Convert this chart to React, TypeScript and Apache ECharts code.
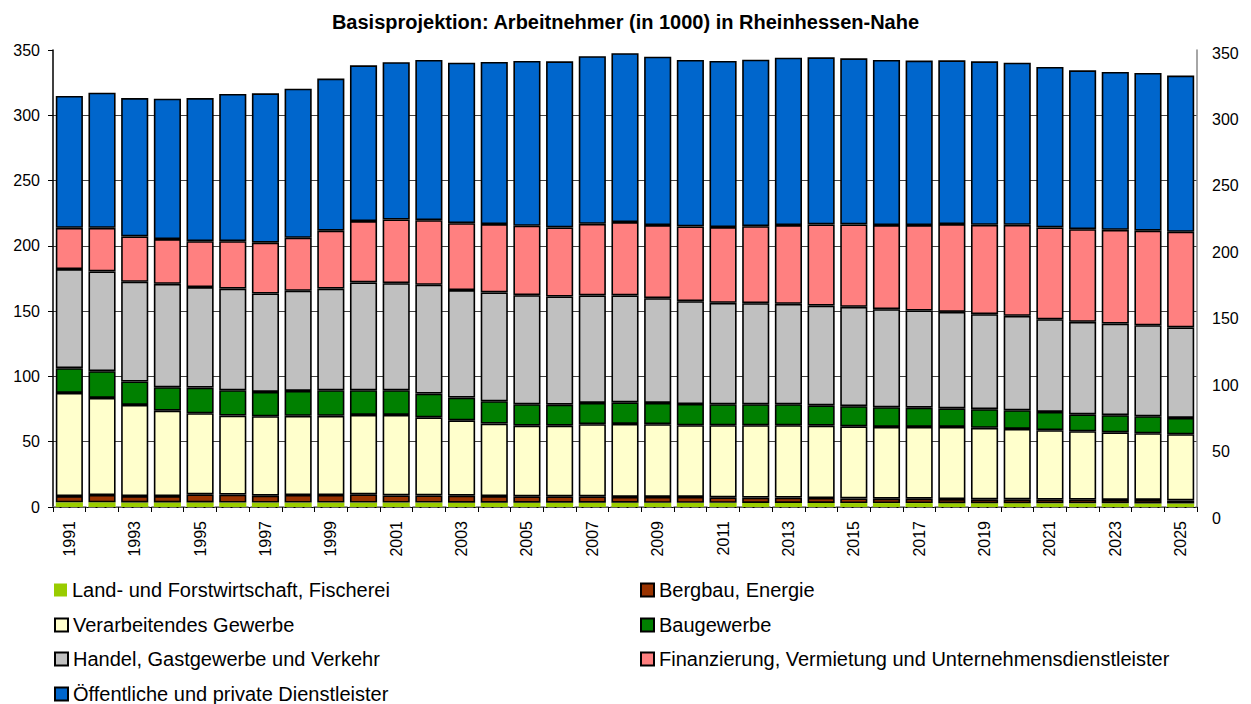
import React, { useEffect, useRef } from "react";
import * as echarts from "echarts";

const years = [
  "1991","1992","1993","1994","1995","1996","1997","1998","1999","2000",
  "2001","2002","2003","2004","2005","2006","2007","2008","2009","2010",
  "2011","2012","2013","2014","2015","2016","2017","2018","2019","2020",
  "2021","2022","2023","2024","2025",
];

const land = [3.6,3.6,3.5,3.5,3.5,3.4,3.4,3.4,3.4,3.4,3.4,3.4,3.3,3.3,3.3,3.3,3.3,3.3,3.2,3.2,3.2,3.1,3.1,3.1,3.0,3.0,3.0,2.9,2.9,2.9,2.8,2.8,2.8,2.7,2.7];
const bergbau = [4.8,5.6,4.9,4.9,6.2,6.1,5.3,5.8,5.8,6.3,5.5,5.5,5.4,5.1,4.9,4.9,4.9,4.4,4.5,4.5,4.2,4.1,4.1,3.8,3.6,3.4,3.4,3.2,3.0,3.0,2.8,2.8,2.6,2.7,2.4];
const verarbeitend = [79.0,74.3,69.8,65.4,62.1,60.5,60.8,60.6,60.6,60.8,61.6,59.8,57.7,55.5,54.1,54.1,55.2,55.9,55.7,54.9,55.2,55.4,55.4,55.4,55.2,54.9,54.9,55.2,54.7,53.9,53.2,52.4,51.8,51.1,50.6];
const bau = [18.9,20.5,17.9,17.9,19.7,19.4,18.6,19.1,19.6,18.9,18.9,18.2,17.4,17.1,16.4,16.1,16.3,16.6,16.3,16.3,16.1,16.1,16.1,15.6,15.4,15.1,14.8,14.3,14.3,14.3,14.0,13.0,13.1,13.0,12.5];
const handel = [75.9,76.4,76.4,79.2,76.9,77.9,75.4,76.7,77.9,82.6,82.0,83.3,82.3,83.3,83.5,82.8,82.3,81.8,80.2,78.7,77.7,77.4,76.9,76.4,76.1,75.1,74.4,73.9,72.8,72.3,71.0,70.8,70.2,69.7,69.3];
const finanz = [31.6,33.4,34.7,34.3,35.2,36.3,38.9,40.6,44.3,47.0,48.8,49.5,51.3,52.4,53.2,52.9,54.9,56.2,56.0,57.3,58.0,59.0,60.3,62.1,63.1,64.4,65.4,67.2,68.4,69.7,70.3,71.0,71.8,72.4,73.3];
const oeffentlich = [101.0,103.5,106.0,107.5,109.6,112.7,114.4,114.2,116.5,119.3,120.4,122.7,122.9,124.1,126.2,127.2,128.3,129.3,129.0,127.5,127.2,127.5,128.2,128.0,127.2,126.5,126.0,125.4,125.2,124.2,122.9,121.6,120.9,120.8,119.6];

const names = [
  "Land- und Forstwirtschaft, Fischerei",
  "Bergbau, Energie",
  "Verarbeitendes Gewerbe",
  "Baugewerbe",
  "Handel, Gastgewerbe und Verkehr",
  "Finanzierung, Vermietung und Unternehmensdienstleister",
  "Öffentliche und private Dienstleister",
];
const colors = ["#99CC00", "#993300", "#FFFFCC", "#008000", "#C0C0C0", "#FF8080", "#0066CC"];
const values = [land, bergbau, verarbeitend, bau, handel, finanz, oeffentlich];

const FONT = "'Liberation Sans', Arial, sans-serif";

export default function App() {
  const ref = useRef<HTMLDivElement>(null);
  useEffect(() => {
    if (!ref.current) return;
    const chart = echarts.init(ref.current, null, { renderer: "svg" });
    const series = names.map((n, i) => ({
      name: n,
      type: "bar",
      stack: "total",
      xAxisIndex: 0,
      yAxisIndex: 0,
      barCategoryGap: "17%",
      data: values[i],
      itemStyle: {
        color: colors[i],
        borderColor: "#000",
        borderWidth: i === 0 ? 0 : 1.6,
      },
      emphasis: { disabled: true },
    }));
    const rowTops = [580, 615, 649, 684];
    const legends = names.map((n, i) => ({
      orient: "horizontal",
      icon: "rect",
      itemWidth: 13,
      itemHeight: 13,
      padding: 0,
      selectedMode: false,
      left: i % 2 === 0 ? 54 : 640,
      top: rowTops[Math.floor(i / 2)],
      data: [n],
      textStyle: { fontFamily: FONT, fontSize: 20, color: "#000", lineHeight: 18 },
    }));
    chart.setOption({
      animation: false,
      textStyle: { fontFamily: FONT },
      title: {
        text: "Basisprojektion: Arbeitnehmer (in 1000) in Rheinhessen-Nahe",
        left: "center",
        top: 7,
        textStyle: { fontFamily: FONT, fontSize: 20, fontWeight: "bold", color: "#000" },
      },
      legend: legends,
      grid: [
        { left: 53, right: 54, top: 50, height: 457 },
        { left: 53, right: 54, top: 53, height: 465 },
      ],
      xAxis: [
        {
          type: "category",
          gridIndex: 0,
          data: years,
          boundaryGap: true,
          axisLine: { lineStyle: { color: "#000", width: 1 } },
          axisTick: { show: true, interval: 0, length: 5, lineStyle: { color: "#000" } },
          axisLabel: {
            interval: 1,
            rotate: 90,
            margin: 14,
            fontSize: 16,
            color: "#000",
            fontFamily: FONT,
          },
        },
        {
          type: "category",
          gridIndex: 0,
          position: "top",
          data: years,
          axisLine: { show: true, lineStyle: { color: "#777", type: "dashed", width: 1.5 } },
          axisTick: { show: false },
          axisLabel: { show: false },
        },
        { type: "category", gridIndex: 1, data: years, show: false },
      ],
      yAxis: [
        {
          type: "value",
          gridIndex: 0,
          min: 0,
          max: 350,
          interval: 50,
          axisLine: { show: true, lineStyle: { color: "#000", width: 1.5 } },
          axisTick: { show: true, length: 5, lineStyle: { color: "#000" } },
          axisLabel: { margin: 13, fontSize: 16, color: "#000", fontFamily: FONT },
          splitLine: { show: true, showMaxLine: false, lineStyle: { color: "#444", width: 1 } },
        },
        {
          type: "value",
          gridIndex: 0,
          position: "right",
          min: 0,
          max: 350,
          interval: 50,
          axisLine: { show: true, lineStyle: { color: "#888", width: 1.5 } },
          axisTick: { show: false },
          axisLabel: { show: false },
          splitLine: { show: false },
        },
        {
          type: "value",
          gridIndex: 1,
          position: "right",
          min: 0,
          max: 350,
          interval: 50,
          axisLine: { show: false },
          axisTick: { show: false },
          axisLabel: { margin: 15, fontSize: 16, color: "#000", fontFamily: FONT },
          splitLine: { show: false },
        },
      ],
      series,
    });
    return () => chart.dispose();
  }, []);
  return (
    <div
      ref={ref}
      style={{ position: "fixed", left: 0, top: 0, width: 1251, height: 704, background: "#fff" }}
    />
  );
}
